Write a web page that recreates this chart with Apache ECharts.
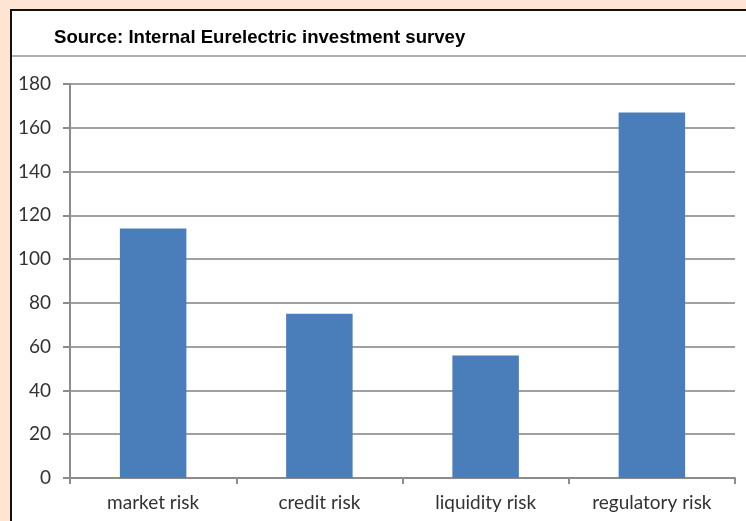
<!DOCTYPE html>
<html><head><meta charset="utf-8">
<script src="https://cdn.jsdelivr.net/npm/echarts@6/dist/echarts.min.js"></script>
<style>html,body{margin:0;padding:0;background:#fde4d3;}#c{width:746px;height:521px;}</style>
</head><body><div id="c"></div>
<script>
const titleText = "Source: Internal Eurelectric investment survey";
const categories = ["market risk", "credit risk", "liquidity risk", "regulatory risk"];
const values = [114, 75, 56, 167];
const yTicks = {min: 0, max: 180, interval: 20};

const chart = echarts.init(document.getElementById('c'));
chart.setOption({
  backgroundColor: '#fde4d3',
  animation: false,
  graphic: [
    {type: 'rect', shape: {x: 11, y: 10, width: 800, height: 600}, style: {fill: '#ffffff', stroke: '#111111', lineWidth: 2}, z: -10},
    {type: 'line', shape: {x1: 12, y1: 56, x2: 746, y2: 56}, style: {stroke: '#b0b0b0', lineWidth: 2}, z: -5},
    {type: 'text', x: 54, y: 38, style: {text: titleText, font: 'bold 18.6px "Liberation Sans", Arial, sans-serif', fill: '#000000', textVerticalAlign: 'middle'}}
  ],
  grid: {left: 70, right: 11, top: 84, bottom: 43, containLabel: false},
  xAxis: {
    type: 'category', data: categories,
    axisLine: {lineStyle: {color: '#8c8c8c', width: 2}},
    axisTick: {show: true, length: 6, lineStyle: {color: '#8c8c8c', width: 2}},
    axisLabel: {margin: 15, fontSize: 19, color: '#333333', fontFamily: 'Lato, sans-serif'}
  },
  yAxis: {
    type: 'value', min: yTicks.min, max: yTicks.max, interval: yTicks.interval,
    axisLine: {show: true, lineStyle: {color: '#8c8c8c', width: 2}},
    axisTick: {show: true, length: 7, lineStyle: {color: '#8c8c8c', width: 2}},
    splitLine: {lineStyle: {color: '#a0a0a0', width: 2}},
    axisLabel: {margin: 19, fontSize: 19, color: '#333333', fontFamily: 'Lato, sans-serif'}
  },
  series: [{type: 'bar', data: values, barWidth: '40%', itemStyle: {color: '#4a7ebb'}}]
});
</script></body></html>
